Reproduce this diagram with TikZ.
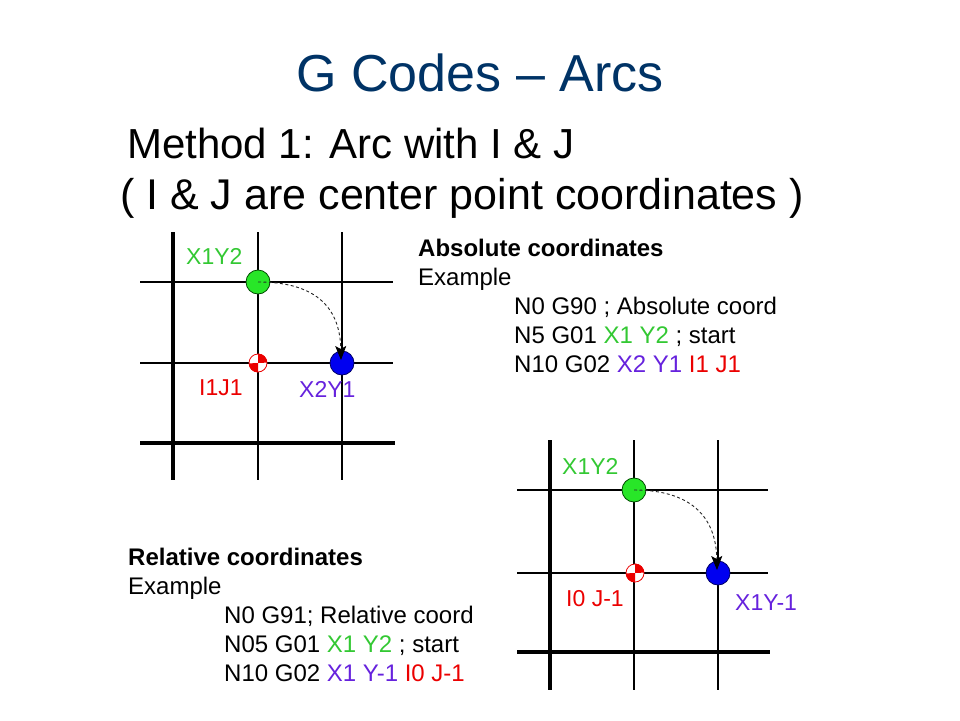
\documentclass[tikz,border=0pt]{standalone}
\usepackage{fontspec}
\setmainfont{Liberation Sans}
\usetikzlibrary{arrows.meta}
\definecolor{titleblue}{RGB}{0,51,102}
\definecolor{cgreen}{RGB}{51,200,51}
\definecolor{cpurple}{RGB}{102,34,221}
\definecolor{cred}{RGB}{235,0,0}
\definecolor{dotgreen}{RGB}{40,230,40}
\definecolor{dotblue}{RGB}{0,0,240}
\tikzset{
  thin line/.style={line width=1.2pt, black},
  thick line/.style={line width=4pt, black},
  txt/.style={anchor=base west, inner sep=0pt, font=\fontsize{24}{28}\selectfont},
  lbl/.style={anchor=base west, inner sep=0pt, font=\fontsize{23}{26}\selectfont},
  startdot/.style={circle, draw=black!70!green, line width=0.8pt, fill=dotgreen, minimum size=24pt, inner sep=0pt},
  enddot/.style={circle, draw=black!60!blue, line width=0.8pt, fill=dotblue, minimum size=24pt, inner sep=0pt},
  centermark/.style={circle, draw=cred, line width=0.8pt, fill=white, minimum size=18pt, inner sep=0pt},
  arcpath/.style={dashed, dash pattern=on 3pt off 2.5pt, line width=0.9pt, black!85, -{Stealth[length=14pt,width=11pt,inset=3pt,sep=0pt,fill=black,color=black]}}
}
\begin{document}
\begin{tikzpicture}[x=1pt,y=-1pt]
\useasboundingbox (0,0) rectangle (960,720);
% titles
\node[anchor=base, inner sep=0pt, text=titleblue, font=\fontsize{52}{60}\selectfont] (title) at (480,91) {G Codes -- Arcs};
\node[anchor=base west, inner sep=0pt, font=\fontsize{42}{50}\selectfont] (m1) at (127,158) {Method 1: Arc with I \& J};
\node[anchor=base west, inner sep=0pt, font=\fontsize{43}{50}\selectfont] (m2) at (120,209) {( I \& J are center point coordinates )};

% grid 1
\draw[thin line] (140,282) -- (393,282);
\draw[thin line] (140,363) -- (393,363);
\draw[thin line] (258,232) -- (258,480);
\draw[thin line] (342,232) -- (342,480);
\draw[thick line] (140,443) -- (395,443);
\draw[thick line] (173,232) -- (173,480);
\node[startdot] (g1) at (258,282) {};
\node[enddot] (b1) at (342,363) {};
\coordinate (t1) at (341,360);
\node[centermark] (c1) at (258,363) {};
\fill[cred] (c1.center) -- (c1.north) arc (90:0:9pt) -- cycle;
\fill[cred] (c1.center) -- (c1.south) arc (270:180:9pt) -- cycle;
\draw[arcpath] (g1.center) .. controls +(55,0) and +(-1,-55) .. (t1);
\node[lbl, text=cgreen] (l1) at (186,264) {X1Y2};
\node[lbl, text=cred] (l2) at (199,395) {I1J1};
\node[lbl, text=cpurple] (l3) at (299,397) {X2Y1};

% grid 2
\draw[thin line] (517,490) -- (768,490);
\draw[thin line] (517,573) -- (768,573);
\draw[thin line] (634,440) -- (634,690);
\draw[thin line] (718,440) -- (718,690);
\draw[thick line] (517,652) -- (770,652);
\draw[thick line] (550,440) -- (550,690);
\node[startdot] (g2) at (634,490) {};
\node[enddot] (b2) at (718,573) {};
\coordinate (t2) at (717,570);
\node[centermark] (c2) at (635,573) {};
\fill[cred] (c2.center) -- (c2.north) arc (90:0:9pt) -- cycle;
\fill[cred] (c2.center) -- (c2.south) arc (270:180:9pt) -- cycle;
\draw[arcpath] (g2.center) .. controls +(55,0) and +(-1,-55) .. (t2);
\node[lbl, text=cgreen] (l4) at (562,474) {X1Y2};
\node[lbl, text=cred] (l5) at (566,606) {I0 J-1};
\node[lbl, text=cpurple] (l6) at (735,610) {X1Y-1};

% absolute text
\node[txt, font=\fontsize{24}{28}\bfseries] (a1) at (418,256) {Absolute coordinates};
\node[txt] (a2) at (418,285) {Example};
\node[txt] (a3) at (514,314) {N0 G90 ; Absolute coord};
\node[txt] (a4) at (514,343) {N5 G01 \textcolor{cgreen}{X1 Y2} ; start};
\node[txt] (a5) at (514,372) {N10 G02 \textcolor{cpurple}{X2 Y1} \textcolor{cred}{I1 J1}};

% relative text
\node[txt, font=\fontsize{24}{28}\bfseries] (r1) at (128,565) {Relative coordinates};
\node[txt] (r2) at (128,594) {Example};
\node[txt] (r3) at (224,623) {N0 G91; Relative coord};
\node[txt] (r4) at (224,652) {N05 G01 \textcolor{cgreen}{X1 Y2} ; start};
\node[txt] (r5) at (224,681) {N10 G02 \textcolor{cpurple}{X1 Y-1} \textcolor{cred}{I0 J-1}};
\end{tikzpicture}
\end{document}
